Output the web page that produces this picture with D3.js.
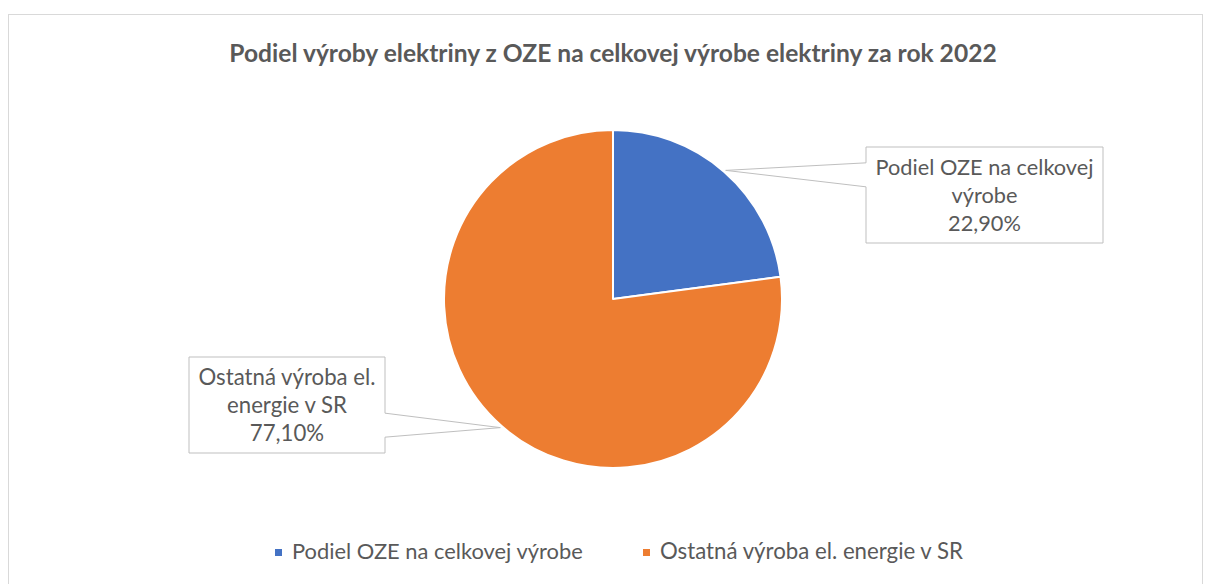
<!DOCTYPE html>
<html>
<head>
<meta charset="utf-8">
<script src="https://cdn.jsdelivr.net/npm/d3@7"></script>
<style>
  body { margin: 0; background: #fff; }
  svg { display: block; }
</style>
</head>
<body>
<svg id="chart"></svg>
<script>
// data
const categories = ["Podiel OZE na celkovej výrobe", "Ostatná výroba el. energie v SR"];
const values = [22.9, 77.1];
const labelLines = [["Podiel OZE na celkovej", "výrobe"], ["Ostatná výroba el.", "energie v SR"]];
const title = "Podiel výroby elektriny z OZE na celkovej výrobe elektriny za rok 2022";

const width = 1206, height = 584;
const colors = ["#4472C4", "#ED7D31"];
const textColor = "#595959";
const fontFamily = "Lato, 'Open Sans', sans-serif";

const svg = d3.select("#chart")
  .attr("width", width)
  .attr("height", height)
  .attr("viewBox", [0, 0, width, height]);

// chart area border
svg.append("rect")
  .attr("x", 8.5).attr("y", 14.5)
  .attr("width", 1194).attr("height", 600)
  .attr("fill", "#fff")
  .attr("stroke", "#d9d9d9");

// shrink/grow a text so it spans the width measured on the reference
function fit(sel, target) {
  sel.each(function () {
    const len = this.getComputedTextLength();
    const size = parseFloat(d3.select(this).style("font-size"));
    d3.select(this).style("font-size", (size * target / len) + "px");
  });
}

// title
svg.append("text")
  .attr("x", 613).attr("y", 62)
  .attr("text-anchor", "middle")
  .attr("fill", textColor)
  .style("font-family", fontFamily)
  .style("font-weight", "bold")
  .style("font-size", "20px")
  .text(title)
  .call(fit, 768);

// pie
const cx = 613, cy = 299, r = 169;
const pie = d3.pie().sort(null).value(d => d)(values);
const arc = d3.arc().innerRadius(0).outerRadius(r);
const edge = d3.arc().innerRadius(r + 2).outerRadius(r + 2);

const g = svg.append("g").attr("transform", `translate(${cx},${cy})`);
g.selectAll("path")
  .data(pie)
  .join("path")
  .attr("d", arc)
  .attr("fill", (d, i) => colors[i])
  .attr("stroke", "#fff")
  .attr("stroke-width", 2)
  .attr("stroke-linejoin", "round");

// callouts: box + wedge pointing to the slice
const boxes = [
  { x: 866, y: 147, w: 237, h: 96, side: "left", target: 218 },
  { x: 189, y: 357, w: 196, h: 96, side: "right", target: 177 }
];

pie.forEach((p, i) => {
  const b = boxes[i];
  const [ax, ay] = edge.centroid(p);
  const px = cx + ax, py = cy + ay;
  const mid = b.y + b.h * 0.29;
  let d;
  if (b.side === "left") {
    d = `M${b.x},${b.y}H${b.x + b.w}V${b.y + b.h}H${b.x}V${mid + 12}L${px},${py}L${b.x},${mid - 12}Z`;
  } else {
    const m = b.y + b.h * 0.71;
    d = `M${b.x},${b.y}H${b.x + b.w}V${m - 12}L${px},${py}L${b.x + b.w},${m + 12}V${b.y + b.h}H${b.x}Z`;
  }
  svg.append("path")
    .attr("d", d)
    .attr("fill", "#fff")
    .attr("stroke", "#bfbfbf")
    .attr("stroke-width", 1);

  const lines = [...labelLines[i], d3.format(".2f")(values[i]).replace(".", ",") + "%"];
  const t = svg.append("g")
    .attr("fill", textColor)
    .attr("text-anchor", "middle")
    .style("font-family", fontFamily)
    .style("font-size", "18px");
  const texts = t.selectAll("text")
    .data(lines)
    .join("text")
    .attr("x", b.x + b.w / 2)
    .attr("y", (d, j) => b.y + 28 + j * 28)
    .text(d => d);
  // scale all lines by the size needed for the first one
  const first = texts.node();
  const k = b.target / first.getComputedTextLength();
  texts.style("font-size", (18 * k) + "px");
});

// legend
const legendItems = [
  { sq: 275, tx: 292, target: 291 },
  { sq: 643, tx: 660, target: 303 }
];
const legend = svg.append("g")
  .style("font-family", fontFamily)
  .style("font-size", "16px")
  .attr("fill", textColor);
categories.forEach((c, i) => {
  const L = legendItems[i];
  legend.append("rect")
    .attr("x", L.sq).attr("y", 549)
    .attr("width", 7).attr("height", 7)
    .attr("fill", colors[i]);
  legend.append("text")
    .attr("x", L.tx).attr("y", 559)
    .text(c)
    .call(fit, L.target);
});
</script>
</body>
</html>
